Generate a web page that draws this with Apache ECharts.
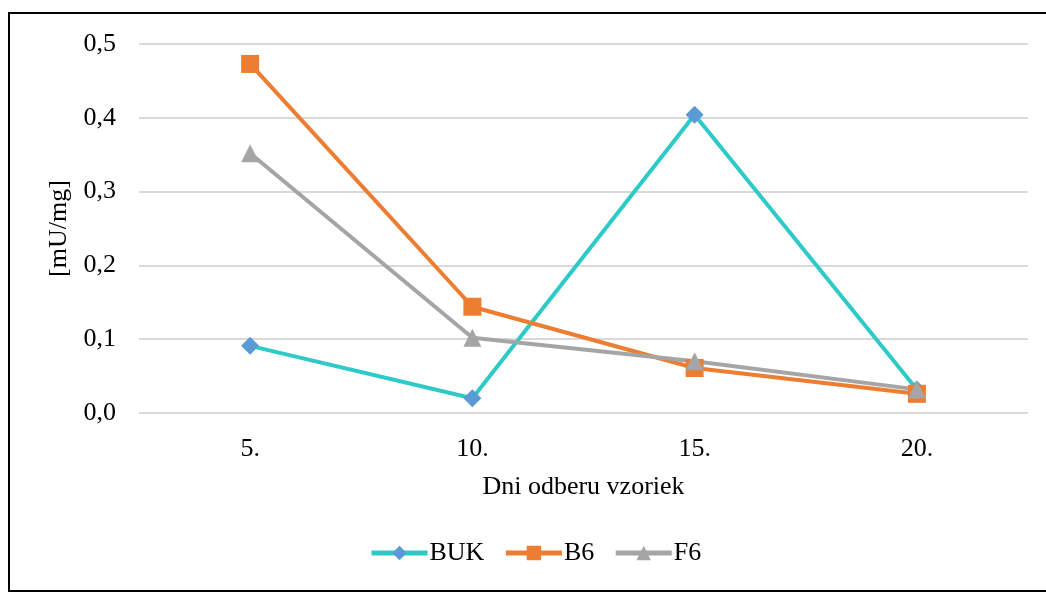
<!DOCTYPE html>
<html>
<head>
<meta charset="utf-8">
<script src="https://cdn.jsdelivr.net/npm/echarts@6/dist/echarts.min.js"></script>
<style>
  html, body { margin: 0; padding: 0; background: #fff; }
  #chart { width: 1046px; height: 592px; }
</style>
</head>
<body>
<div id="chart"></div>
<script>
// Sampling days and measured activity per variant
const days = ['5.', '10.', '15.', '20.'];
const buk = [0.091, 0.020, 0.404, 0.032];
const b6 = [0.473, 0.144, 0.061, 0.026];
const f6 = [0.352, 0.102, 0.070, 0.032];
const yTicks = [0, 0.1, 0.2, 0.3, 0.4, 0.5];

const font = '"Liberation Serif", "Times New Roman", serif';
const fs = 26;
const chart = echarts.init(document.getElementById('chart'), null, { renderer: 'canvas' });

function line(name, data, color, symbol, size, markerColor) {
  return {
    name, type: 'line', data,
    symbol, symbolSize: size,
    lineStyle: { color, width: 4 },
    itemStyle: { color: markerColor || color },
    emphasis: { disabled: true },
    animation: false
  };
}

chart.setOption({
  backgroundColor: '#fff',
  animation: false,
  graphic: [{
    type: 'rect',
    shape: { x: 9, y: 13, width: 1045, height: 578 },
    style: { fill: 'none', stroke: '#000', lineWidth: 2 },
    silent: true
  }],
  grid: { left: 139, right: 18, top: 44, bottom: 179 },
  legend: {
    top: 535,
    left: 364,
    itemWidth: 56,
    itemHeight: 18,
    itemGap: 19,
    lineStyle: { width: 5 },
    textStyle: { fontFamily: font, fontSize: fs, color: '#000', padding: [0, 0, 0, -3] },
    data: ['BUK', 'B6', 'F6']
  },
  xAxis: {
    type: 'category',
    data: days,
    boundaryGap: true,
    name: 'Dni odberu vzoriek',
    nameLocation: 'middle',
    nameGap: 61,
    nameTextStyle: { fontFamily: font, fontSize: fs, color: '#000' },
    axisLine: { show: false },
    axisTick: { show: false },
    axisLabel: { fontFamily: font, fontSize: fs, color: '#000', margin: 23 }
  },
  yAxis: {
    type: 'value',
    min: 0, max: 0.5, interval: 0.1,
    name: '[mU/mg]',
    nameLocation: 'middle',
    nameGap: 64,
    nameRotate: 90,
    nameTextStyle: { fontFamily: font, fontSize: fs, color: '#000' },
    axisLine: { show: false },
    axisTick: { show: false },
    splitLine: { lineStyle: { color: '#d9d9d9', width: 2 } },
    axisLabel: {
      fontFamily: font, fontSize: fs, color: '#000', margin: 23,
      formatter: v => {
        const t = yTicks.find(x => Math.abs(x - v) < 1e-9);
        return (t !== undefined ? t : v).toFixed(1).replace('.', ',');
      }
    }
  },
  series: [
    line('BUK', buk, '#2ecac8', 'diamond', 18, '#5b9bd5'),
    line('B6', b6, '#ed7d31', 'rect', 18),
    line('F6', f6, '#a5a5a5', 'triangle', 18)
  ]
});
</script>
</body>
</html>
